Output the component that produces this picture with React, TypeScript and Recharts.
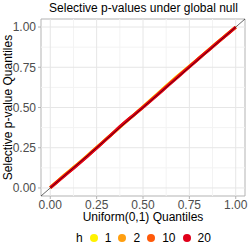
import React from "react";
import { ComposedChart, Line, XAxis, YAxis, ReferenceLine, ReferenceArea, Label } from "recharts";

const uniformQ = [0.0, 0.025, 0.05, 0.075, 0.1, 0.125, 0.15, 0.175, 0.2, 0.225, 0.25, 0.275, 0.3, 0.325, 0.35, 0.375, 0.4, 0.425, 0.45, 0.475, 0.5, 0.525, 0.55, 0.575, 0.6, 0.625, 0.65, 0.675, 0.7, 0.725, 0.75, 0.775, 0.8, 0.825, 0.85, 0.875, 0.9, 0.925, 0.95, 0.975, 1.0];

const h1 = [0.003, 0.029, 0.054, 0.079, 0.103, 0.127, 0.151, 0.176, 0.201, 0.227, 0.252, 0.277, 0.303, 0.328, 0.353, 0.378, 0.404, 0.429, 0.454, 0.479, 0.505, 0.531, 0.557, 0.582, 0.608, 0.634, 0.659, 0.685, 0.709, 0.733, 0.757, 0.781, 0.806, 0.830, 0.855, 0.879, 0.904, 0.928, 0.952, 0.976, 0.998];
const h2 = [0.002, 0.027, 0.053, 0.078, 0.102, 0.126, 0.150, 0.175, 0.200, 0.225, 0.251, 0.276, 0.302, 0.327, 0.352, 0.378, 0.403, 0.428, 0.453, 0.478, 0.503, 0.529, 0.555, 0.580, 0.606, 0.632, 0.657, 0.682, 0.707, 0.731, 0.756, 0.780, 0.805, 0.829, 0.854, 0.878, 0.903, 0.927, 0.951, 0.976, 0.999];
const h10 = [0.001, 0.026, 0.051, 0.076, 0.100, 0.124, 0.148, 0.173, 0.198, 0.224, 0.250, 0.276, 0.301, 0.327, 0.353, 0.379, 0.405, 0.429, 0.453, 0.477, 0.502, 0.527, 0.552, 0.577, 0.602, 0.628, 0.654, 0.679, 0.704, 0.729, 0.754, 0.779, 0.804, 0.829, 0.853, 0.878, 0.903, 0.927, 0.951, 0.975, 0.999];
const h20 = [0.002, 0.026, 0.050, 0.074, 0.098, 0.122, 0.147, 0.171, 0.196, 0.222, 0.248, 0.274, 0.301, 0.327, 0.354, 0.381, 0.406, 0.430, 0.453, 0.477, 0.501, 0.526, 0.551, 0.576, 0.601, 0.627, 0.652, 0.677, 0.702, 0.728, 0.753, 0.778, 0.803, 0.828, 0.852, 0.877, 0.902, 0.926, 0.950, 0.975, 0.999];

const seriesNames = ["1", "2", "10", "20"];
const seriesValues = [h1, h2, h10, h20];
const seriesColors = ["#FFF200", "#FF9F10", "#FF5A0A", "#E0001A"];

const majorTicks = [0, 0.25, 0.5, 0.75, 1];
const minorTicks = [0.125, 0.375, 0.625, 0.875];

const title = "Selective p-values under global null";
const xTitle = "Uniform(0,1) Quantiles";
const yTitle = "Selective p-value Quantiles";
const legendTitle = "h";

const FONT = "'Liberation Sans', Arial, sans-serif";

const buildData = (vals: number[]) => uniformQ.map((x, i) => ({ x, y: vals[i] }));

export default function App() {
  return (
    <div style={{ position: "absolute", left: 0, top: 0, width: 249, height: 249, background: "#fff", fontFamily: FONT }}>
      <ComposedChart width={249} height={249} margin={{ top: 19, right: 4, bottom: 0, left: 1 }}>
        <XAxis
          type="number"
          dataKey="x"
          domain={[-0.05, 1.05]}
          ticks={majorTicks}
          allowDataOverflow
          tickFormatter={(v: number) => v.toFixed(2)}
          axisLine={false}
          tickLine={{ stroke: "#B3B3B3" }}
          tickSize={3}
          tickMargin={1}
          tick={{ fill: "#4D4D4D", fontSize: 12, fontFamily: FONT }}
          height={53}
        >
          <Label value={xTitle} position="insideBottom" offset={28} style={{ fill: "#000", fontSize: 12, fontFamily: FONT }} />
        </XAxis>
        <YAxis
          type="number"
          dataKey="y"
          domain={[-0.05, 1.05]}
          ticks={majorTicks}
          allowDataOverflow
          tickFormatter={(v: number) => v.toFixed(2)}
          axisLine={false}
          tickLine={{ stroke: "#B3B3B3" }}
          tickSize={3}
          tickMargin={2}
          tick={{ fill: "#4D4D4D", fontSize: 12, fontFamily: FONT }}
          width={40}
        >
          <Label value={yTitle} angle={-90} position="insideLeft" offset={7} style={{ fill: "#000", fontSize: 12, fontFamily: FONT, textAnchor: "middle" }} />
        </YAxis>
        {minorTicks.map((t) => (
          <ReferenceLine key={"mx" + t} x={t} stroke="#F3F3F3" strokeWidth={1} />
        ))}
        {minorTicks.map((t) => (
          <ReferenceLine key={"my" + t} y={t} stroke="#F3F3F3" strokeWidth={1} />
        ))}
        {majorTicks.map((t) => (
          <ReferenceLine key={"Mx" + t} x={t} stroke="#E6E6E6" strokeWidth={1} />
        ))}
        {majorTicks.map((t) => (
          <ReferenceLine key={"My" + t} y={t} stroke="#E6E6E6" strokeWidth={1} />
        ))}
        {seriesValues.map((vals, i) => (
          <Line
            key={seriesNames[i]}
            data={buildData(vals)}
            dataKey="y"
            type="linear"
            stroke={seriesColors[i]}
            strokeWidth={3}
            dot={false}
            activeDot={false}
            isAnimationActive={false}
          />
        ))}
        <ReferenceLine
          segment={[{ x: -0.05, y: -0.05 }, { x: 1.05, y: 1.05 }]}
          stroke="#000"
          strokeWidth={0.6}
        />
        <ReferenceArea x1={-0.05} x2={1.05} y1={-0.05} y2={1.05} fill="none" stroke="#B3B3B3" strokeWidth={1} />
      </ComposedChart>
      <div style={{ position: "absolute", left: 41, top: 0, width: 205, textAlign: "center", fontSize: 12, lineHeight: "17px", color: "#000", whiteSpace: "nowrap" }}>{title}</div>
      <div style={{ position: "absolute", left: 41, top: 229, width: 205, height: 18, display: "flex", alignItems: "center", justifyContent: "center", fontSize: 12, color: "#000" }}>
        <span style={{ marginRight: 7 }}>{legendTitle}</span>
        {seriesNames.map((n, i) => (
          <span key={n} style={{ display: "inline-flex", alignItems: "center", marginRight: i < seriesNames.length - 1 ? 7 : 0 }}>
            <span style={{ width: 8, height: 8, borderRadius: "50%", background: seriesColors[i], display: "inline-block", marginRight: 7 }} />
            <span>{n}</span>
          </span>
        ))}
      </div>
    </div>
  );
}
